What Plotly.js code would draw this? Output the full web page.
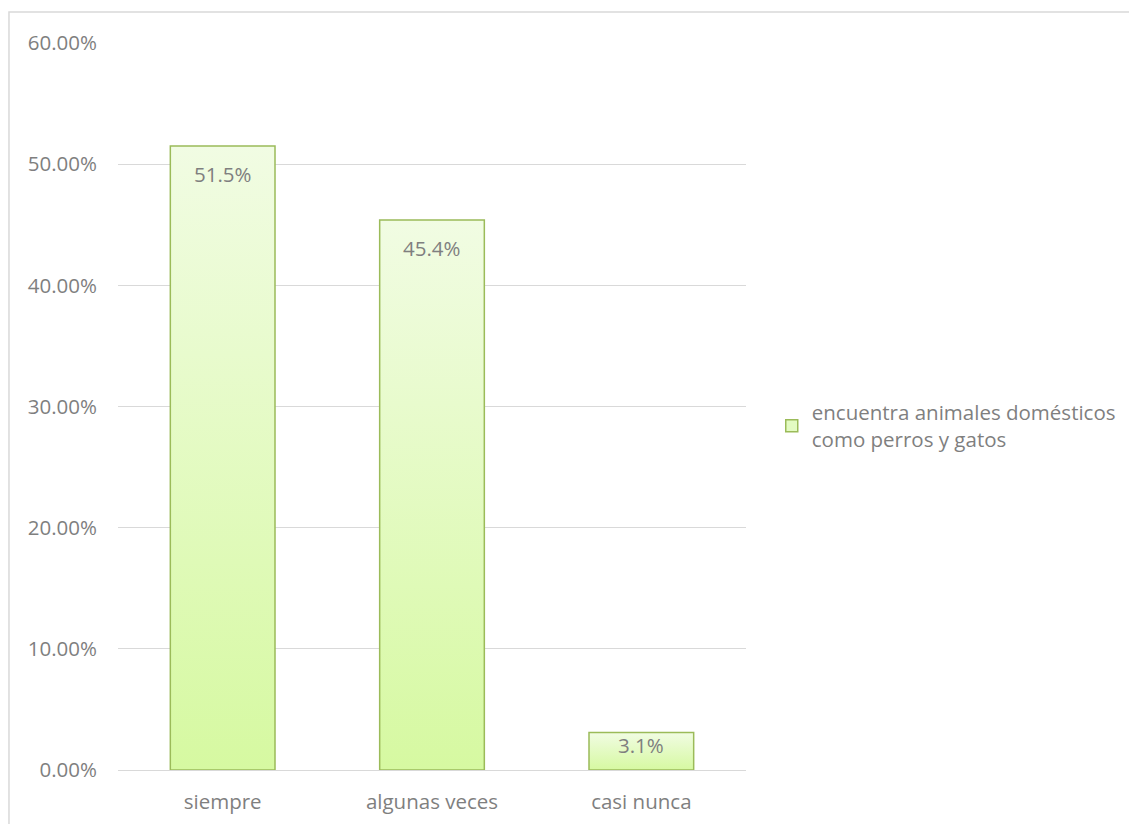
<!DOCTYPE html>
<html>
<head>
<meta charset="utf-8">
<script src="https://cdn.plot.ly/plotly-3.0.1.min.js"></script>
<style>html,body{margin:0;padding:0;background:#fff;}#chart{width:1129px;height:824px;}</style>
</head>
<body>
<div id="chart"></div>
<script>
const categories = ["siempre", "algunas veces", "casi nunca"];
const values = [0.515, 0.454, 0.031];
const seriesName = "encuentra animales domésticos<br>como perros y gatos";
const yTickValues = [0, 0.1, 0.2, 0.3, 0.4, 0.5, 0.6];
const yTickLabels = ["0.00%", "10.00%", "20.00%", "30.00%", "40.00%", "50.00%", "60.00%"];

const font = "'Open Sans', sans-serif";
const grey = "#7f7f7f";
const fs = 20.5;
const yMax = 0.6;
const plotH = 824 - 43 - 54;

const trace = {
  type: "bar",
  x: categories,
  y: values,
  name: seriesName,
  showlegend: true,
  marker: { color: "#e3fbc2", line: { color: "#9bbb59", width: 1.5 } },
  hoverinfo: "skip"
};

const annotations = categories.map(function (c, i) {
  const hpx = values[i] / yMax * plotH;
  return {
    x: c, y: values[i], xref: "x", yref: "y",
    text: (values[i] * 100).toFixed(1) + "%",
    showarrow: false, yanchor: "middle",
    yshift: -Math.min(28, hpx / 3),
    font: { family: font, size: fs, color: grey }
  };
});

const layout = {
  width: 1129, height: 824,
  margin: { l: 118, r: 383, t: 43, b: 54, autoexpand: false },
  paper_bgcolor: "#fff", plot_bgcolor: "#fff",
  font: { family: font, size: fs, color: grey },
  bargap: 0.5,
  xaxis: {
    showgrid: false, showline: false, zeroline: false, ticks: "",
    tickfont: { family: font, size: fs, color: grey },
    ticklabelstandoff: 17
  },
  yaxis: {
    range: [0, yMax], tickvals: yTickValues, ticktext: yTickLabels,
    showgrid: true, gridcolor: "#d9d9d9", gridwidth: 1,
    zeroline: true, zerolinecolor: "#d9d9d9", zerolinewidth: 1,
    showline: false, ticks: "",
    tickfont: { family: font, size: fs, color: grey },
    ticklabelstandoff: 20
  },
  showlegend: true,
  legend: {
    x: 1.041, xanchor: "left", y: 0.473, yanchor: "middle",
    font: { family: font, size: fs, color: grey },
    itemwidth: 30, bgcolor: "rgba(0,0,0,0)"
  },
  annotations: annotations,
  shapes: [{
    type: "rect", xref: "paper", yref: "paper",
    x0: -0.1736, x1: 1.7, y0: 1.0426, y1: -0.09,
    line: { color: "#d9d9d9", width: 1.5 }, fillcolor: "rgba(0,0,0,0)", layer: "below"
  }]
};

Plotly.newPlot("chart", [trace], layout, { displayModeBar: false, staticPlot: true }).then(function (gd) {
  const svg = gd.querySelector("svg.main-svg");
  const ns = "http://www.w3.org/2000/svg";
  let defs = svg.querySelector("defs");
  if (!defs) { defs = document.createElementNS(ns, "defs"); svg.insertBefore(defs, svg.firstChild); }
  const g = document.createElementNS(ns, "linearGradient");
  g.setAttribute("id", "barGrad");
  g.setAttribute("x1", "0"); g.setAttribute("y1", "0");
  g.setAttribute("x2", "0"); g.setAttribute("y2", "1");
  [["0", "#f1fce3"], ["1", "#d6f9a1"]].forEach(function (s) {
    const st = document.createElementNS(ns, "stop");
    st.setAttribute("offset", s[0]); st.setAttribute("stop-color", s[1]);
    g.appendChild(st);
  });
  defs.appendChild(g);
  gd.querySelectorAll(".barlayer .point path").forEach(function (p) { p.style.fill = "url(#barGrad)"; });
});
</script>
</body>
</html>
